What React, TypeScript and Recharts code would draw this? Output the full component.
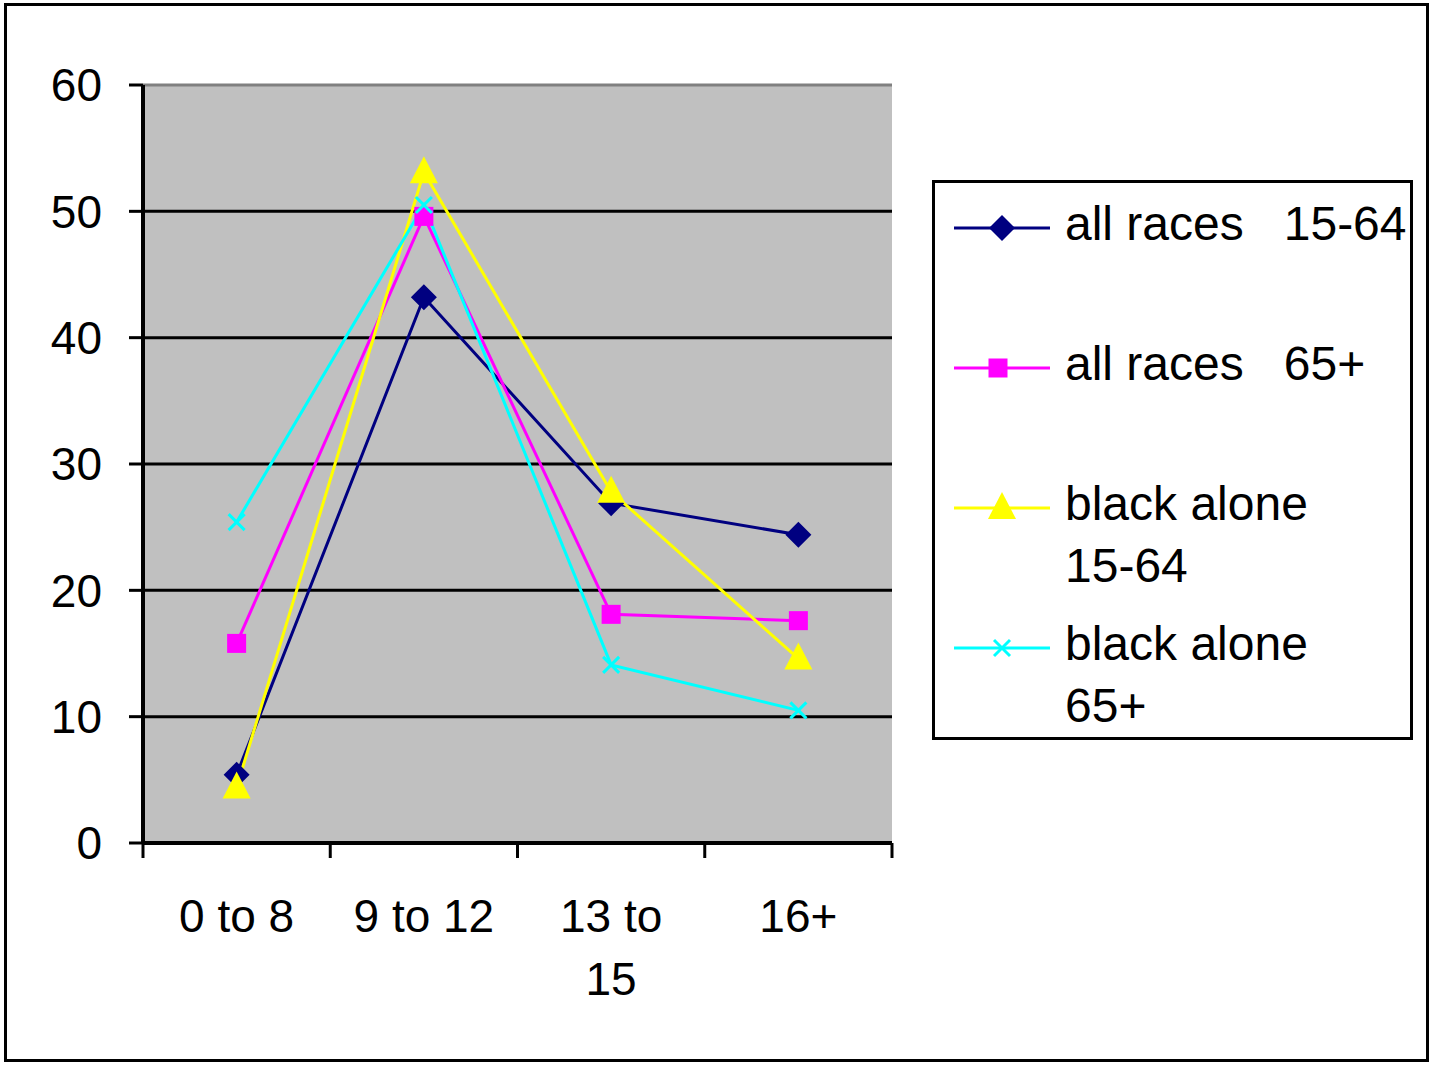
import React from 'react'
import {
  LineChart,
  Line,
  XAxis,
  YAxis,
  CartesianGrid,
  ReferenceLine,
  Legend,
} from 'recharts'

const categories = ['0 to 8', '9 to 12', '13 to 15', '16+']
const tickRows = [['0 to 8'], ['9 to 12'], ['13 to', '15'], ['16+']]

const allRaces1564 = [5.4, 43.2, 26.9, 24.4]
const allRaces65 = [15.8, 49.6, 18.1, 17.6]
const black1564 = [4.4, 53.1, 27.8, 14.6]
const black65 = [25.4, 50.5, 14.1, 10.5]

const yTicks = [0, 10, 20, 30, 40, 50, 60]
const gridValues = [10, 20, 30, 40, 50]
// category boundaries on the numeric helper axis
const boundaryTicks = [0, 1, 2, 3, 4]

const FONT = '"Liberation Sans", Arial, sans-serif'

type Shape = 'diamond' | 'square' | 'triangle' | 'cross'

const series: { key: string; name: string; rows: string[]; color: string; shape: Shape }[] = [
  { key: 'a1564', name: 'all races   15-64', rows: ['all races   15-64'], color: '#000080', shape: 'diamond' },
  { key: 'a65', name: 'all races   65+', rows: ['all races   65+'], color: '#ff00ff', shape: 'square' },
  { key: 'b1564', name: 'black alone 15-64', rows: ['black alone', '15-64'], color: '#ffff00', shape: 'triangle' },
  { key: 'b65', name: 'black alone 65+', rows: ['black alone', '65+'], color: '#00ffff', shape: 'cross' },
]

const data = categories.map((c, i) => ({
  cat: c,
  pos: i + 0.5,
  a1564: allRaces1564[i],
  a65: allRaces65[i],
  b1564: black1564[i],
  b65: black65[i],
}))

function Marker({ shape, color, cx, cy }: { shape: Shape; color: string; cx: number; cy: number }) {
  if (shape === 'diamond') {
    const r = 13
    return <polygon points={`${cx},${cy - r} ${cx + r},${cy} ${cx},${cy + r} ${cx - r},${cy}`} fill={color} />
  }
  if (shape === 'square') {
    const r = 9.5
    return <rect x={cx - r} y={cy - r} width={r * 2} height={r * 2} fill={color} />
  }
  if (shape === 'triangle') {
    return <polygon points={`${cx},${cy - 16} ${cx + 14},${cy + 11} ${cx - 14},${cy + 11}`} fill={color} />
  }
  const r = 8
  return (
    <g stroke={color} strokeWidth={3}>
      <line x1={cx - r} y1={cy - r} x2={cx + r} y2={cy + r} />
      <line x1={cx - r} y1={cy + r} x2={cx + r} y2={cy - r} />
    </g>
  )
}

function CategoryTick(props: any) {
  const { x, y, index } = props
  const rows = tickRows[index] || [props.payload.value]
  return (
    <text x={x} y={y} textAnchor="middle" fontFamily={FONT} fontSize={46} fill="#000">
      {rows.map((r: string, i: number) => (
        <tspan key={i} x={x} dy={i === 0 ? 75 : 63}>
          {r}
        </tspan>
      ))}
    </text>
  )
}

function LegendBox() {
  return (
    <div
      style={{
        boxSizing: 'border-box',
        width: 481,
        height: 560,
        border: '3px solid #000',
        background: '#fff',
        paddingTop: 10,
        fontFamily: FONT,
        fontSize: 48,
        lineHeight: '62px',
        color: '#000',
      }}
    >
      {series.map((s) => (
        <div key={s.key} style={{ display: 'flex', height: 140 }}>
          <svg width={130} height={62} style={{ flex: 'none' }}>
            <line x1={19} y1={35} x2={115} y2={35} stroke={s.color} strokeWidth={3} />
            <Marker shape={s.shape} color={s.color} cx={s.shape === 'square' ? 63 : 67} cy={35} />
          </svg>
          <div>
            {s.rows.map((r) => (
              <div key={r} style={{ whiteSpace: 'pre' }}>
                {r}
              </div>
            ))}
          </div>
        </div>
      ))}
    </div>
  )
}

export default function App() {
  return (
    <div style={{ position: 'absolute', left: 0, top: 0, width: 1431, height: 1067, background: '#fff' }}>
      <div
        style={{
          position: 'absolute',
          left: 4,
          top: 3,
          width: 1425,
          height: 1059,
          boxSizing: 'border-box',
          border: '3px solid #000',
        }}
      />
      <div style={{ position: 'absolute', left: 0, top: 0 }}>
        <LineChart width={1431} height={1067} data={data} margin={{ top: 85, right: 539, bottom: 24, left: 0 }}>
          <CartesianGrid
            fill="#c0c0c0"
            vertical={false}
            horizontalValues={gridValues}
            stroke="#000"
            strokeWidth={3}
          />
          <ReferenceLine y={60} stroke="#808080" strokeWidth={3} />
          <XAxis
            xAxisId="a-edge"
            dataKey="pos"
            type="number"
            domain={[0, 4]}
            ticks={boundaryTicks}
            allowDataOverflow
            tick={() => <g />}
            tickSize={15}
            height={12}
            axisLine={{ stroke: '#000', strokeWidth: 4 }}
            tickLine={{ stroke: '#000', strokeWidth: 3 }}
          />
          <XAxis
            xAxisId="b-cat"
            dataKey="cat"
            scale="band"
            axisLine={false}
            tickLine={false}
            tickSize={0}
            height={188}
            interval={0}
            tick={<CategoryTick />}
          />
          <YAxis
            domain={[0, 60]}
            ticks={yTicks}
            width={143}
            tickSize={14}
            tickMargin={27}
            axisLine={{ stroke: '#000', strokeWidth: 4 }}
            tickLine={{ stroke: '#000', strokeWidth: 3 }}
            tick={{ fontFamily: FONT, fontSize: 46, fill: '#000' }}
          />
          <YAxis
            yAxisId="frame"
            orientation="right"
            width={0}
            domain={[0, 60]}
            tick={false}
            tickLine={false}
            axisLine={{ stroke: '#808080', strokeWidth: 3 }}
          />
          {series.map((s) => (
            <Line
              key={s.key}
              xAxisId="b-cat"
              dataKey={s.key}
              name={s.name}
              stroke={s.color}
              strokeWidth={3}
              isAnimationActive={false}
              dot={(p: any) => <Marker key={`${s.key}-${p.index}`} shape={s.shape} color={s.color} cx={p.cx} cy={p.cy} />}
              activeDot={false}
            />
          ))}
          <Legend
            layout="vertical"
            align="center"
            verticalAlign="middle"
            wrapperStyle={{ position: 'absolute', left: 932, top: 180, width: 481, height: 560 }}
            content={() => <LegendBox />}
          />
        </LineChart>
      </div>
    </div>
  )
}
